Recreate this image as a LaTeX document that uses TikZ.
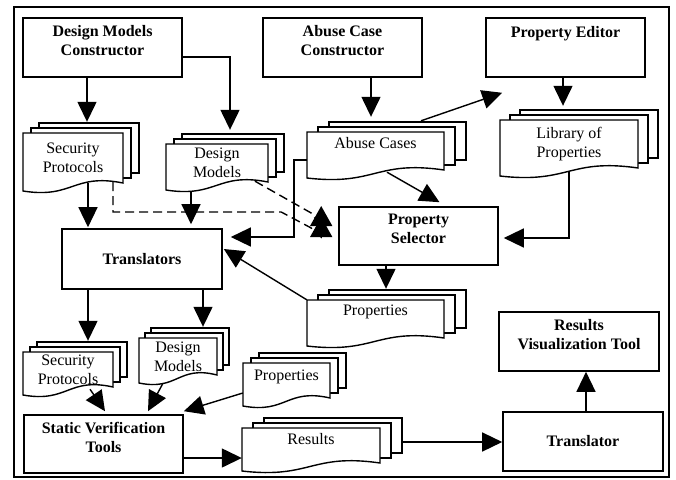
\documentclass[tikz,border=0pt]{standalone}
\usepackage{fontspec}
\setmainfont{Liberation Serif}
\usetikzlibrary{arrows.meta,calc}

\newcommand{\docs}[8][]{%
	\foreach \p in {2,1} {\draw[pg] ({#3+\p*#7},{#4-\p*5}) rectangle ++(#5,#6);}
	\draw[pg] (#3,#4) -- ++(#5,0) -- ++(0,#6) .. controls +(-0.5*#5,-10) and +(0.5*#5,8) .. (#3,{#4+#6+8}) -- cycle;
	\node[dtxt, minimum width=#5, minimum height=#6, #1] (#2) at ({#3+#5/2},{#4+#6/2}) {#8};
}

\begin{document}
\begin{tikzpicture}[
	x=1pt, y=-1pt,
	>={Triangle[length=20pt,width=19pt]},
	blk/.style={rectangle, draw, line width=1.6pt, minimum width=159pt, minimum height=59pt, align=center, font=\fontsize{16}{19}\selectfont\bfseries},
	blk2/.style={blk, text depth=14pt},
	dtxt/.style={rectangle, inner sep=0pt, align=center, font=\fontsize{16}{19}\selectfont},
	pg/.style={draw, fill=white, line width=1.4pt},
	seta/.style={->, line width=1.4pt},
	dsh/.style={->, line width=1.4pt, dash pattern=on 9pt off 5pt, >={Triangle[length=20pt,width=22pt]}},
]
\useasboundingbox (0,0) rectangle (676,479);
\draw[line width=1.8pt] (14,7) rectangle (669,477);

\node[blk2] (dmc) at (102.5,47.5) {Design Models\\Constructor};
\node[blk2] (acc) at (342.5,47.5) {Abuse Case\\Constructor};
\node[blk, text depth=32pt] (ped) at (565.5,47.5) {Property Editor};
\node[blk2, minimum height=58pt] (psel) at (418.5,236) {Property\\Selector};
\node[blk, minimum width=160pt, minimum height=60pt] (trs) at (142,259) {Translators};
\node[blk2, minimum width=160pt] (rvt) at (579,341.5) {Results\\Visualization Tool};
\node[blk, minimum width=160pt] (tr) at (583,441.5) {Translator};
\node[blk2, minimum height=58pt] (svt) at (103.5,444) {Static Verification\\Tools};

\docs{sp1}{23}{133}{100}{50}{8}{Security\\Protocols}
\docs{dm1}{166}{144}{102}{38}{8}{Design\\Models}
\docs[text depth=17pt]{ab}{307}{132}{137}{38}{11}{Abuse Cases}
\docs{lib}{500}{120}{138}{48}{10}{Library of\\Properties}
\docs[text depth=17pt]{pr1}{307}{300}{137}{38}{11}{Properties}
\docs{sp2}{23}{352}{90}{35}{7}{Security\\Protocols}
\docs{dm2}{139}{338}{78}{37}{6}{Design\\Models}
\docs[text depth=10pt]{pr2}{243}{363}{87}{35}{8}{Properties}
\docs[text depth=14pt]{res}{242}{428}{138}{35}{11}{Results}

\draw[seta] ($(dmc.south)+(-15.5,0)$) -- ($(sp1.north)+(14,-11)$);
\draw[seta] ($(dmc.east)+(0,9.5)$) -| ($(dm1.north)+(13,-14)$);
\draw[seta] ($(acc.south)+(28.5,0)$) -- ($(ab.north)+(-4.5,-15)$);
\draw[seta] ($(ab.north)+(45.5,-11)$) -- ($(ped.south west)+(17,15)$);
\draw[seta] ($(ped.south)+(-2.5,0)$) -- ($(lib.north)+(-6,-14)$);
\draw[seta] ($(lib.south)+(0,3)$) |- ($(psel.east)+(5,2)$);
\draw[seta] ($(ab.south)+(11.5,2)$) -- ($(psel.north)+(21,-4)$);
\draw[seta] ($(ab.west)+(0,9)$) -- ++(-13,0) |- ($(trs.east)+(8,-22)$);
\draw[seta] (pr1.north west) -- ($(trs.east)+(1,-10)$);
\draw[seta] ($(psel.south)+(-32.5,0)$) -- ($(pr1.north)+(10.5,-11)$);
\draw[seta] ($(sp1.south)+(15,0)$) -- ($(trs.north)+(-54,-1)$);
\draw[seta] ($(dm1.south)+(-26,9)$) -- ($(trs.north)+(49,-4)$);
\draw[seta] ($(trs.south)+(-54,0)$) -- ($(sp2.north)+(20,-11)$);
\draw[seta] ($(trs.south)+(61,0)$) -- ($(dm2.north)+(25,-11)$);
\draw[seta] ($(sp2.south)+(22,2)$) -- ($(svt.north)+(1.5,-3)$);
\draw[seta] ($(dm2.south)+(-15,8)$) -- ($(svt.north)+(44.5,-3)$);
\draw[seta] ($(pr2.west)+(0,12.5)$) -- ($(svt.north east)+(0,-3)$);
\draw[seta] ($(svt.east)+(0,14)$) -- ($(res.west)+(0,12.5)$);
\draw[seta] ($(res.east)+(22,-3.5)$) -- ($(tr.west)+(0,0.5)$);
\draw[seta] ($(tr.north)+(3,0)$) -- ($(rvt.south)+(7,0)$);
\draw[dsh] ($(sp1.south)+(40,-1)$) |- ($(psel.west)+(-57,-24)$) -- ($(psel.west)+(-27,-8)$) -- ($(psel.west)+(-17,1)$) -- ($(psel.west)+(-17,-19)$);
\draw[dsh] ($(dm1.south)+(38,-1)$) -- ($(psel.west)+(-27,-23)$) -- ($(psel.west)+(-17,-10)$) -- ($(psel.west)+(-17,-30)$);
\end{tikzpicture}
\end{document}
